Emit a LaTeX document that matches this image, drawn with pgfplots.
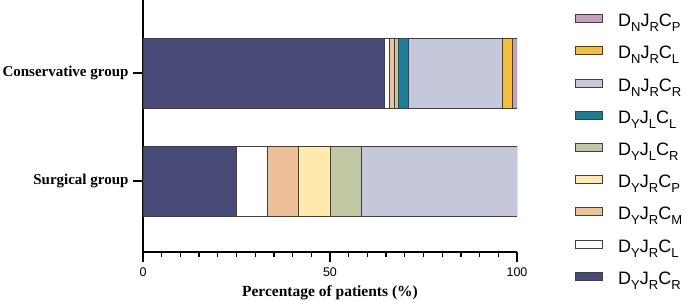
\documentclass[border=0pt]{standalone}
\usepackage{pgfplots}
\pgfplotsset{compat=1.18}
\usepackage{fontspec}
\setmainfont{Liberation Serif}
\newfontfamily\arial{Liberation Sans}
\definecolor{cNavy}{HTML}{484B77}
\definecolor{cPeach}{HTML}{EDC198}
\definecolor{cYellow}{HTML}{FFEAAE}
\definecolor{cGreen}{HTML}{C1C7A3}
\definecolor{cTeal}{HTML}{1B7F99}
\definecolor{cLav}{HTML}{C5C8DB}
\definecolor{cGold}{HTML}{F2BE3C}
\definecolor{cPink}{HTML}{C6A0BE}
\definecolor{cEdge}{HTML}{3F3F3F}
\newcommand\sbs[1]{\raisebox{-0.28em}{\fontsize{13bp}{13bp}\selectfont #1}}
\newcommand\lgd[3]{\hspace*{15bp}D\sbs{#1}J\sbs{#2}C\sbs{#3}}
\begin{document}
\begin{tikzpicture}
\begin{axis}[
  name=ax,
  scale only axis,
  width=374bp, height=252bp,
  xbar stacked,
  bar width=70bp,
  xmin=0, xmax=100,
  ymin=-0.657, ymax=1.676,
  axis x line*=bottom, axis y line*=left,
  axis line style={line width=1.3bp, black},
  xtick={0,50,100},
  minor xtick={5,10,...,95},
  ytick={0,1},
  yticklabels={Surgical group, Conservative group},
  tick align=outside,
  major tick length=10bp, minor tick length=4.5bp,
  every tick/.style={line width=1.3bp, black},
  yticklabel style={font=\fontsize{15bp}{15bp}\selectfont\bfseries, xshift=-1bp},
  xticklabel style={font=\fontsize{12.5bp}{12.5bp}\selectfont\arial, yshift=-2bp},
  /pgf/number format/assume math mode=true,
  xlabel={\fontsize{15.5bp}{15.5bp}\selectfont\bfseries Percentage of patients (\%)},
  xlabel style={yshift=-2.5bp},
  legend reversed,
  legend cell align=left,
  legend style={at={(1,1)}, anchor=north west, xshift=58bp, yshift=-14bp,
    draw=none, fill=none, inner sep=0pt, row sep=15.7bp,
    font=\fontsize{18bp}{18bp}\selectfont\arial,
    nodes={inner sep=0pt, text height=12bp, text depth=4bp}},
  legend image code/.code={\draw[#1,line width=1bp] (0bp,0bp) rectangle (27bp,8bp);},
  every axis plot/.append style={draw=cEdge, line width=0.9bp},
]
\addplot[fill=cNavy] coordinates {(25.00,0) (64.56,1)};
\addplot[fill=white] coordinates {(8.33,0) (1.27,1)};
\addplot[fill=cPeach] coordinates {(8.33,0) (1.27,1)};
\addplot[fill=cYellow] coordinates {(8.33,0) (0,1)};
\addplot[fill=cGreen] coordinates {(8.34,0) (1.27,1)};
\addplot[fill=cTeal] coordinates {(0,0) (2.53,1)};
\addplot[fill=cLav] coordinates {(41.67,0) (25.32,1)};
\addplot[fill=cGold] coordinates {(0,0) (2.53,1)};
\addplot[fill=cPink] coordinates {(0,0) (1.25,1)};
\legend{\lgd{Y}{R}{R}, \lgd{Y}{R}{L}, \lgd{Y}{R}{M}, \lgd{Y}{R}{P}, \lgd{Y}{L}{R}, \lgd{Y}{L}{L}, \lgd{N}{R}{R}, \lgd{N}{R}{L}, \lgd{N}{R}{P}}
\end{axis}
\pgfresetboundingbox
\path[use as bounding box] ([shift={(-143bp,-49bp)}]ax.south west) rectangle ++(685bp,301bp);
\end{tikzpicture}
\end{document}
